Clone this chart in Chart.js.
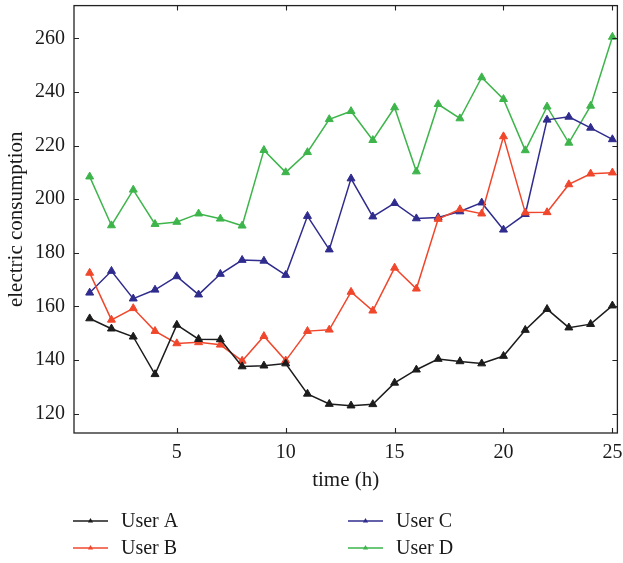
<!DOCTYPE html>
<html>
<head>
<meta charset="utf-8">
<script src="https://cdn.jsdelivr.net/npm/chart.js@4.4.1/dist/chart.umd.min.js"></script>
<style>
  html, body { margin: 0; padding: 0; background: #ffffff; }
  #wrap { position: relative; width: 623px; height: 563px; }
</style>
</head>
<body>
<div id="wrap"><canvas id="c" width="623" height="563"></canvas></div>
<script>
// ---- data ----
const hours = [1,2,3,4,5,6,7,8,9,10,11,12,13,14,15,16,17,18,19,20,21,22,23,24,25];
const userA = [155.5,151.7,148.7,134.7,153.1,147.8,147.7,137.6,137.9,138.7,127.4,123.6,123.0,123.5,131.5,136.4,140.4,139.5,138.7,141.5,151.2,159.0,152.1,153.4,160.3];
const userB = [172.5,155.0,159.3,150.8,146.2,146.6,145.7,139.7,148.9,139.8,150.8,151.3,165.4,158.4,174.4,166.6,192.6,196.2,194.6,223.4,195.0,195.1,205.5,209.5,209.9];
const userC = [165.1,173.2,162.9,166.2,171.2,164.4,172.1,177.3,177.0,171.7,193.7,181.2,207.7,193.5,198.5,192.8,193.2,195.4,198.7,188.6,194.4,229.6,230.7,226.6,222.3];
const userD = [208.4,190.2,203.5,190.7,191.5,194.6,192.7,190.1,218.3,210.0,217.5,229.8,232.8,222.0,234.2,210.3,235.4,230.1,245.4,237.3,218.2,234.5,221.0,234.8,260.5];
const seriesNames = ['User A','User B','User C','User D'];
const xTickValues = [5,10,15,20,25];
const yTickValues = [120,140,160,180,200,220,240,260];

const colors = ['#1c1c1c','#f0472c','#2f2c8e','#3db54b'];
const FONT = "'Liberation Serif', 'DejaVu Serif', serif";

function mk(vals, i) {
  return {
    label: seriesNames[i],
    data: hours.map((h, k) => ({x: h, y: vals[k]})),
    borderColor: colors[i],
    backgroundColor: colors[i],
    borderWidth: 1.5,
    pointStyle: 'triangle',
    pointRadius: 4.6,
    pointHoverRadius: 4.6,
    pointBorderWidth: 1,
    tension: 0
  };
}

const framePlugin = {
  id: 'frame',
  afterDraw(chart) {
    const {ctx, chartArea: a, scales} = chart;
    ctx.save();
    ctx.strokeStyle = '#222';
    ctx.lineWidth = 1.3;
    ctx.strokeRect(a.left, a.top, a.right - a.left, a.bottom - a.top);
    ctx.lineWidth = 1.1;
    const L = 5;
    ctx.beginPath();
    xTickValues.forEach(v => {
      const px = Math.round(scales.x.getPixelForValue(v)) + 0.5;
      ctx.moveTo(px, a.bottom); ctx.lineTo(px, a.bottom - L);
      ctx.moveTo(px, a.top); ctx.lineTo(px, a.top + L);
    });
    yTickValues.forEach(v => {
      const py = Math.round(scales.y.getPixelForValue(v)) + 0.5;
      ctx.moveTo(a.left, py); ctx.lineTo(a.left + L, py);
      ctx.moveTo(a.right, py); ctx.lineTo(a.right - L, py);
    });
    ctx.stroke();

    // legend (two columns, column-major)
    const pos = [
      {x: 73, y: 521}, {x: 73, y: 548},
      {x: 348, y: 521}, {x: 348, y: 548}
    ];
    ctx.font = "20px " + FONT;
    ctx.textBaseline = 'middle';
    ctx.textAlign = 'left';
    chart.data.datasets.forEach((ds, i) => {
      const p = pos[i];
      ctx.strokeStyle = ds.borderColor;
      ctx.fillStyle = ds.borderColor;
      ctx.lineWidth = 1.5;
      ctx.beginPath();
      ctx.moveTo(p.x, p.y); ctx.lineTo(p.x + 35, p.y);
      ctx.stroke();
      const cx = p.x + 17.5, r = 3;
      ctx.beginPath();
      ctx.moveTo(cx, p.y - r);
      ctx.lineTo(cx + r * 0.866, p.y + r * 0.5);
      ctx.lineTo(cx - r * 0.866, p.y + r * 0.5);
      ctx.closePath();
      ctx.fill();
      ctx.fillStyle = '#1a1a1a';
      ctx.fillText(ds.label, p.x + 48, p.y + 1);
    });
    ctx.restore();
  }
};

new Chart(document.getElementById('c'), {
  type: 'line',
  data: { datasets: [mk(userA,0), mk(userB,1), mk(userC,2), mk(userD,3)] },
  options: {
    responsive: false,
    animation: false,
    layout: { padding: { top: 3, right: 4, left: 0, bottom: 0 } },
    plugins: { legend: { display: false }, tooltip: { enabled: false } },
    scales: {
      x: {
        type: 'linear',
        min: 0.28, max: 25.23,
        grid: { display: false, drawTicks: false },
        border: { display: false },
        afterBuildTicks: s => { s.ticks = xTickValues.map(v => ({value: v})); },
        afterFit: s => { s.height = 130; s.paddingLeft = 0; s.paddingRight = 0; },
        ticks: { padding: 8, color: '#1a1a1a', font: { family: FONT, size: 20 }, maxRotation: 0, autoSkip: false },
        title: { display: true, text: 'time (h)', color: '#1a1a1a', font: { family: FONT, size: 21 }, padding: { top: 0, bottom: 70 } }
      },
      y: {
        min: 112.8, max: 272.2,
        grid: { display: false, drawTicks: false },
        border: { display: false },
        afterBuildTicks: s => { s.ticks = yTickValues.map(v => ({value: v})); },
        afterFit: s => { s.width = 74; s.paddingTop = 0; s.paddingBottom = 0; },
        ticks: { padding: 9, color: '#1a1a1a', font: { family: FONT, size: 20 }, autoSkip: false },
        title: { display: true, text: 'electric consumption', color: '#1a1a1a', font: { family: FONT, size: 21 }, padding: { top: 4, bottom: 0 } }
      }
    }
  },
  plugins: [framePlugin]
});
</script>
</body>
</html>
